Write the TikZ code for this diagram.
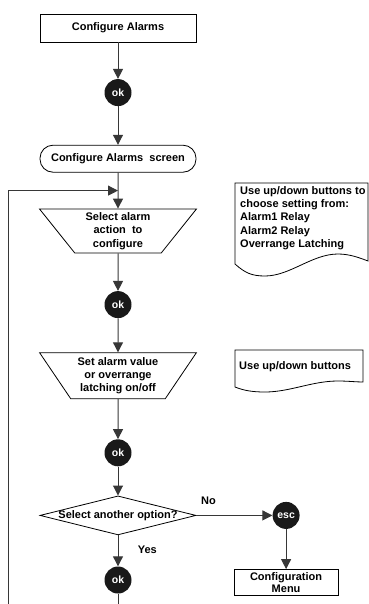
\documentclass[tikz,border=0pt]{standalone}
\usepackage{fontspec}
\setmainfont{Liberation Sans}
\usepackage{tikz}
\usetikzlibrary{shapes.geometric,arrows.meta,positioning,calc}
\definecolor{linegray}{RGB}{55,55,55}

\begin{document}
\begin{tikzpicture}[
        x=1pt, y=1pt,
        every node/.style={font=\fontsize{11}{13.3}\selectfont\bfseries},
        box/.style={rectangle, draw=black, line width=0.8pt, minimum width=156pt, minimum height=28pt, inner sep=1pt, align=center},
        screen/.style={rectangle, rounded corners=13pt, draw=black, line width=0.8pt, minimum width=156pt, minimum height=27pt},
        action/.style={trapezium, shape border rotate=180, trapezium left angle=55, trapezium right angle=55, trapezium stretches=true, draw=black, line width=0.8pt, minimum width=157pt, inner sep=1pt, align=center},
        key/.style={circle, fill=black!90, text=white, minimum size=27pt, inner sep=0pt, font=\fontsize{10.5}{12}\selectfont\bfseries},
        decision/.style={diamond, draw=black, line width=0.8pt, minimum width=156pt, minimum height=39pt, inner sep=0pt},
        note/.style={align=left, inner sep=0pt},
        outline/.style={draw=black, line width=0.8pt},
        line/.style={draw=linegray, line width=1pt},
        arrow/.style={line, -{Triangle[length=10pt,width=10pt]}}
    ]
        \useasboundingbox (0,0) rectangle (368,-604);

        % Main column
        \node[box] (cfg) at (118,-28) {Configure Alarms};
        \node[key, below=36.5pt of cfg] (ok1) {ok};
        \node[screen, below=38.5pt of ok1] (scr) {Configure Alarms\ \ screen};
        \node[action, minimum height=44pt, below=36pt of scr] (sel) {Select alarm\\action\ \ to\\configure};
        \node[key, below=37.5pt of sel] (ok2) {ok};
        \node[action, minimum height=46pt, below=34pt of ok2] (set) {Set alarm value\\or overrange\\latching on/off};
        \node[key, below=40pt of set] (ok3) {ok};
        \node[decision, below=29pt of ok3, label={center:Select another option?}] (dec) {};
        \node[key, below=31pt of dec] (ok4) {ok};

        % Exit branch
        \node[key, right=76pt of dec] (esc) {esc};
        \node[box, minimum width=104pt, minimum height=26pt, font=\fontsize{11}{12}\selectfont\bfseries, below=40pt of esc] (menu) {Configuration\\Menu};

        % Notes
        \draw[outline] (235,-183) -- (235,-264) .. controls (245,-273) and (252,-276) .. (265,-276)
            .. controls (290,-276) and (312,-254) .. (338,-254) .. controls (350,-254) and (360,-258) .. (368,-261)
            -- (368,-183) -- cycle;
        \node[note, anchor=north west] (nt1) at (240,-186) {Use up/down buttons to\\choose setting from:\\Alarm1 Relay\\Alarm2 Relay\\Overrange Latching};
        \draw[outline] (235,-350) -- (235,-387) .. controls (245,-391) and (254,-392) .. (265,-392)
            .. controls (290,-392) and (312,-381) .. (338,-381) .. controls (348,-381) and (356,-382) .. (363,-382)
            -- (363,-350) -- cycle;
        \node[note, anchor=west] (nt2) at (239,-367) {Use up/down buttons};

        % Connectors
        \draw[arrow] (cfg) -- (ok1);
        \draw[arrow] (ok1) -- (scr);
        \draw[arrow] (scr) -- (sel);
        \draw[arrow] (sel) -- (ok2);
        \draw[arrow] (ok2) -- (set);
        \draw[arrow] (set) -- (ok3);
        \draw[arrow] (ok3) -- (dec);
        \draw[arrow] (dec) -- node[pos=0.16, above=10pt, inner sep=0pt]{No} (esc);
        \draw[arrow] (dec) -- node[right=16pt, yshift=1pt]{Yes} (ok4);
        \draw[arrow] (esc) -- (menu);

        % Loop back
        \coordinate (loopin) at ($(scr.south)!0.5!(sel.north)$);
        \coordinate (loopend) at (8,-604);
        \coordinate (flowend) at (ok4 |- loopend);
        \draw[line] (ok4) -- (flowend);
        \draw[arrow] (loopend) |- (loopin);
    \end{tikzpicture}
\end{document}
